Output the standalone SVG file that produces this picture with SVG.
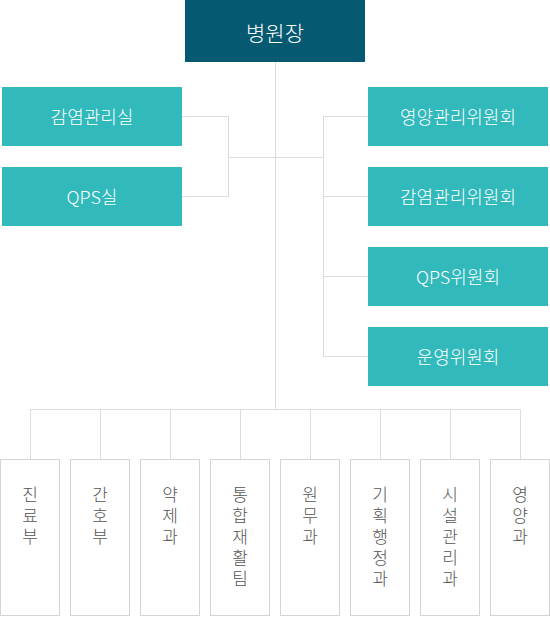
<svg xmlns="http://www.w3.org/2000/svg" width="550" height="617" viewBox="0 0 550 617">
<style>
.top{fill:#055a72}
.teal{fill:#31b9bb}
.dept{fill:#fff;stroke:#d4d4d4;stroke-width:1}
.wt{fill:#fff;font-family:"Noto Sans CJK KR","Noto Sans",sans-serif;font-size:18px;font-weight:300;text-anchor:middle;dominant-baseline:central}
.tt{fill:#fff;font-family:"Noto Sans CJK KR","Noto Sans",sans-serif;font-size:21px;font-weight:300;text-anchor:middle;dominant-baseline:central}
.dt{fill:#555;font-family:"Noto Sans CJK KR","Noto Sans",sans-serif;font-size:17px;font-weight:300;writing-mode:vertical-rl;letter-spacing:4px}
.ln{fill:none;stroke:#dcdcdc;stroke-width:1}
</style>
<g id="connectors" class="ln">
<path d="M275.5 62V409"/>
<path d="M182 116.5H228.5V196.5H182"/>
<path d="M228.5 157.5H323.5"/>
<path d="M368 116.5H323.5V356.5H368"/>
<path d="M323.5 196.5H368M323.5 276.5H368"/>
<path d="M30.5 459V409.5H520.5V459"/>
<path d="M100.5 409.5V459M170.5 409.5V459M240.5 409.5V459M310.5 409.5V459M380.5 409.5V459M450.5 409.5V459"/>
</g>
<g id="director"><rect class="top" x="185" y="0" width="180" height="62"/><text class="tt" x="275" y="32">병원장</text></g>
<g id="infection-office"><rect class="teal" x="2" y="87" width="180" height="59"/><text class="wt" x="92" y="116">감염관리실</text></g>
<g id="qps-office"><rect class="teal" x="2" y="167" width="180" height="59"/><text class="wt" x="92" y="196">QPS실</text></g>
<g id="nutrition-committee"><rect class="teal" x="368" y="87" width="180" height="59"/><text class="wt" x="458" y="116">영양관리위원회</text></g>
<g id="infection-committee"><rect class="teal" x="368" y="167" width="180" height="59"/><text class="wt" x="458" y="196">감염관리위원회</text></g>
<g id="qps-committee"><rect class="teal" x="368" y="247" width="180" height="59"/><text class="wt" x="458" y="276">QPS위원회</text></g>
<g id="operation-committee"><rect class="teal" x="368" y="327" width="180" height="59"/><text class="wt" x="458" y="356">운영위원회</text></g>
<g id="d1"><rect class="dept" x="0.5" y="459.5" width="59" height="156"/><text class="dt" x="30" y="486">진료부</text></g>
<g id="d2"><rect class="dept" x="70.5" y="459.5" width="59" height="156"/><text class="dt" x="100" y="486">간호부</text></g>
<g id="d3"><rect class="dept" x="140.5" y="459.5" width="59" height="156"/><text class="dt" x="170" y="486">약제과</text></g>
<g id="d4"><rect class="dept" x="210.5" y="459.5" width="59" height="156"/><text class="dt" x="240" y="486">통합재활팀</text></g>
<g id="d5"><rect class="dept" x="280.5" y="459.5" width="59" height="156"/><text class="dt" x="310" y="486">원무과</text></g>
<g id="d6"><rect class="dept" x="350.5" y="459.5" width="59" height="156"/><text class="dt" x="380" y="486">기획행정과</text></g>
<g id="d7"><rect class="dept" x="420.5" y="459.5" width="59" height="156"/><text class="dt" x="450" y="486">시설관리과</text></g>
<g id="d8"><rect class="dept" x="490.5" y="459.5" width="59" height="156"/><text class="dt" x="520" y="486">영양과</text></g>
</svg>
